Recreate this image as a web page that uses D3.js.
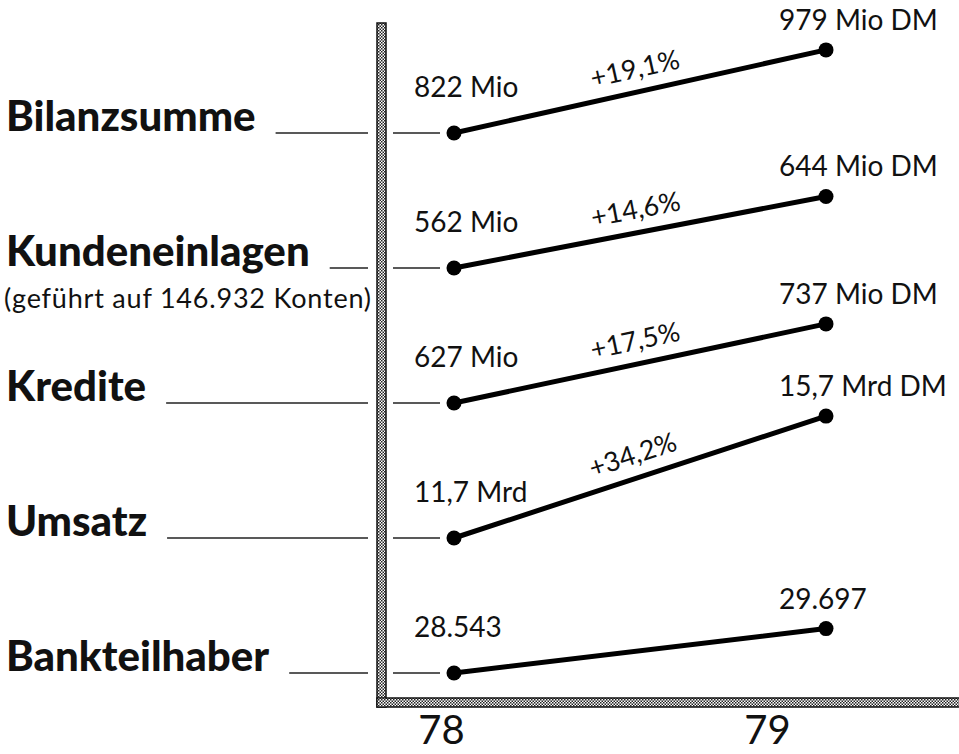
<!DOCTYPE html>
<html lang="de">
<head>
  <meta charset="UTF-8">
  <title>Bilanz 78 / 79</title>
  <script src="https://d3js.org/d3.v7.min.js"></script>
  <style>
    body { margin: 0; background: #fff; }
    svg { display: block; }
    .title { font-family: Lato, "Noto Sans", sans-serif; font-weight: 900; font-size: 42px; fill: #111; }
    .sub { font-family: Lato, "Noto Sans", sans-serif; font-size: 27px; letter-spacing: 0.8px; fill: #111; }
    .val { font-family: Lato, "Noto Sans", sans-serif; font-size: 28px; fill: #111; }
    .pct { font-family: Lato, "Noto Sans", sans-serif; font-size: 27px; fill: #111; }
    .tick text { font-family: Lato, "Noto Sans", sans-serif; font-size: 40px; fill: #111; }
  </style>
</head>
<body>
<div id="chart"></div>
<script>
  // Daten
  const categories = ["Bilanzsumme", "Kundeneinlagen", "Kredite", "Umsatz", "Bankteilhaber"];
  const subtitles = ["", "(geführt auf 146.932 Konten)", "", "", ""];
  const years = ["78", "79"];
  const values78 = [822, 562, 627, 11.7, 28543];
  const values79 = [979, 644, 737, 15.7, 29697];
  const labels78 = ["822 Mio", "562 Mio", "627 Mio", "11,7 Mrd", "28.543"];
  const labels79 = ["979 Mio DM", "644 Mio DM", "737 Mio DM", "15,7 Mrd DM", "29.697"];
  const showGrowth = [true, true, true, true, false];

  const width = 959, height = 754;
  const de = d3.formatLocale({ decimal: ",", thousands: ".", grouping: [3], currency: ["", " DM"] });
  const fmtPct = de.format("+.1f");

  const rows = categories.map((c, i) => ({
    name: c,
    sub: subtitles[i],
    v78: values78[i],
    v79: values79[i],
    l78: labels78[i],
    l79: labels79[i],
    growth: (values79[i] / values78[i] - 1) * 100,
    show: showGrowth[i]
  }));

  const svg = d3.select("#chart").append("svg")
    .attr("width", width)
    .attr("height", height);

  // Raster für die Achsenbalken
  const defs = svg.append("defs");
  const pat = defs.append("pattern")
    .attr("id", "raster")
    .attr("width", 3).attr("height", 3)
    .attr("patternUnits", "userSpaceOnUse");
  pat.append("rect").attr("width", 3).attr("height", 3).attr("fill", "#fff");
  pat.append("rect").attr("width", 1.5).attr("height", 1.5).attr("fill", "#222");
  pat.append("rect").attr("x", 1.5).attr("y", 1.5).attr("width", 1.5).attr("height", 1.5).attr("fill", "#222");

  // Skalen
  const x = d3.scalePoint().domain(years).range([454, 826]);
  const row = d3.scalePoint().domain(categories).range([133, 673]);
  const rise = d3.scaleLinear().domain([0, 35]).range([34, 124]);
  const tickX = d3.scalePoint().domain(years).range([441, 767]);

  const axisLeft = 377, axisTop = 23, axisBottom = 707, barW = 9;

  // Achsenbalken
  svg.append("rect")
    .attr("x", axisLeft).attr("y", axisTop)
    .attr("width", barW).attr("height", axisBottom - axisTop)
    .attr("fill", "url(#raster)").attr("stroke", "#111").attr("stroke-width", 1.5);
  svg.append("rect")
    .attr("x", axisLeft).attr("y", axisBottom - barW)
    .attr("width", width - axisLeft + 5).attr("height", barW)
    .attr("fill", "url(#raster)").attr("stroke", "#111").attr("stroke-width", 1.5);
  // Ecke ohne Trennstrich
  svg.append("rect")
    .attr("x", axisLeft + 0.75).attr("y", axisBottom - barW + 0.75)
    .attr("width", barW - 1.5).attr("height", barW - 1.5)
    .attr("fill", "url(#raster)");

  // Jahreszahlen
  svg.append("g")
    .attr("transform", `translate(0,${axisBottom})`)
    .call(d3.axisBottom(tickX).tickSize(0).tickPadding(0))
    .call(g => g.select(".domain").remove())
    .selectAll("text")
    .attr("y", 37)
    .attr("dy", 0);

  const g = svg.append("g").selectAll("g")
    .data(rows)
    .join("g");

  // Beschriftung links
  g.append("text")
    .attr("class", "title")
    .attr("x", 6)
    .attr("y", d => row(d.name) - 2)
    .text(d => d.name);

  g.filter(d => d.sub).append("text")
    .attr("class", "sub")
    .attr("x", 4)
    .attr("y", d => row(d.name) + 40)
    .text(d => d.sub);

  // Führungslinien
  g.each(function (d) {
    const grp = d3.select(this);
    const tw = grp.select(".title").node().getComputedTextLength();
    const y = row(d.name);
    grp.append("line")
      .attr("x1", 6 + tw + 20).attr("x2", axisLeft - 9)
      .attr("y1", y).attr("y2", y)
      .attr("stroke", "#222").attr("stroke-width", 1.6);
    grp.append("line")
      .attr("x1", axisLeft + barW + 7).attr("x2", x("78") - 14)
      .attr("y1", y).attr("y2", y)
      .attr("stroke", "#222").attr("stroke-width", 1.6);
  });

  const y78 = d => row(d.name);
  const y79 = d => row(d.name) - rise(d.growth);

  // Linien
  g.append("line")
    .attr("x1", x("78")).attr("y1", y78)
    .attr("x2", x("79")).attr("y2", y79)
    .attr("stroke", "#000").attr("stroke-width", 5)
    .attr("stroke-linecap", "round");

  g.append("circle").attr("cx", x("78")).attr("cy", y78).attr("r", 7.5).attr("fill", "#000");
  g.append("circle").attr("cx", x("79")).attr("cy", y79).attr("r", 7.5).attr("fill", "#000");

  // Werte
  g.append("text")
    .attr("class", "val")
    .attr("x", x("78") - 40)
    .attr("y", d => y78(d) - 36)
    .text(d => d.l78);

  g.append("text")
    .attr("class", "val")
    .attr("x", x("79") - 47)
    .attr("y", d => y79(d) - 20)
    .text(d => d.l79);

  // Veränderung in Prozent, entlang der Linie
  g.filter(d => d.show).append("text")
    .attr("class", "pct")
    .attr("text-anchor", "middle")
    .attr("transform", d => {
      const mx = (x("78") + x("79")) / 2;
      const my = (y78(d) + y79(d)) / 2;
      const ang = Math.atan2(y79(d) - y78(d), x("79") - x("78")) * 180 / Math.PI;
      return `translate(${mx},${my}) rotate(${ang})`;
    })
    .attr("y", -14)
    .text(d => fmtPct(d.growth) + "%");
</script>
</body>
</html>
